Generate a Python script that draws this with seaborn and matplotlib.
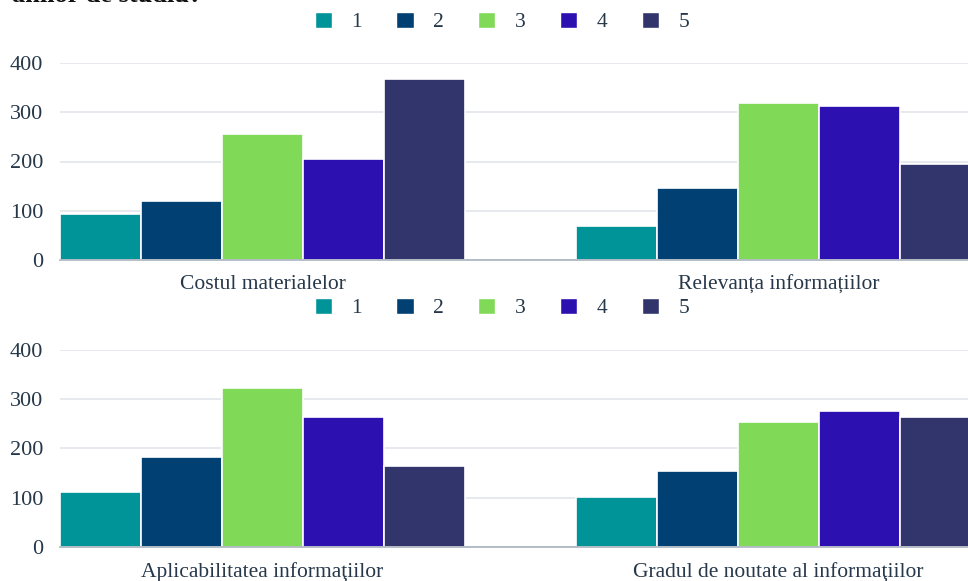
import matplotlib
matplotlib.use("Agg")
import matplotlib.pyplot as plt
import seaborn as sns
import pandas as pd
from matplotlib.patches import Patch

series = ["1", "2", "3", "4", "5"]
colors = ["#009498", "#004073", "#80d957", "#2d10b0", "#31356b"]

cats_top = ["Costul materialelor", "Relevanța informațiilor"]
vals_top = {
    "Costul materialelor": [93, 120, 255, 205, 368],
    "Relevanța informațiilor": [70, 146, 318, 312, 195],
}
cats_bot = ["Aplicabilitatea informaţiilor", "Gradul de noutate al informaţiilor"]
vals_bot = {
    "Aplicabilitatea informaţiilor": [112, 182, 322, 264, 165],
    "Gradul de noutate al informaţiilor": [101, 153, 254, 276, 263],
}
yticks = [0, 100, 200, 300, 400]
title_text = "anilor de studiu?"

sns.set_theme(style="white")
plt.rcParams["font.family"] = ["Liberation Serif", "DejaVu Serif"]
txt = "#26384a"

W, H = 968, 581
fig = plt.figure(figsize=(W / 100, H / 100), dpi=100)


def make_df(cats, vals):
    rows = []
    for c in cats:
        for s, v in zip(series, vals[c]):
            rows.append({"cat": c, "series": s, "val": v})
    return pd.DataFrame(rows)


def draw(cats, vals, y_zero, y_top, leg_y):
    left, right = 60, 981
    ax = fig.add_axes([left / W, (H - y_zero) / H, (right - left) / W, (y_zero - y_top) / H])
    df = make_df(cats, vals)
    sns.barplot(data=df, x="cat", y="val", hue="series", hue_order=series,
                palette=colors, width=0.785, ax=ax, edgecolor="white",
                linewidth=1.2, legend=False, saturation=1)
    ax.set_xlim(-0.3925, 1.3925)
    ax.set_ylim(0, 400)
    ax.set_yticks(yticks)
    ax.set_yticklabels([str(t) for t in yticks])
    ax.yaxis.grid(True, color="#e1e5ea", linewidth=1.2)
    ax.set_axisbelow(True)
    for s in ["top", "right", "left"]:
        ax.spines[s].set_visible(False)
    ax.spines["bottom"].set_color("#a9b3bd")
    ax.spines["bottom"].set_linewidth(1.2)
    ax.tick_params(axis="y", length=0, pad=12, labelsize=16, labelcolor=txt)
    ax.tick_params(axis="x", length=0, pad=11, labelsize=15.5, labelcolor=txt)
    ax.set_xlabel("")
    ax.set_ylabel("")
    handles = [Patch(facecolor=c, edgecolor="white", label=s) for c, s in zip(colors, series)]
    fig.legend(handles=handles, loc="center", bbox_to_anchor=(502 / W, 1 - leg_y / H),
               ncol=5, frameon=False, fontsize=15.5, handlelength=0.8, handleheight=0.8,
               handletextpad=0.9, columnspacing=1.6, labelcolor=txt)
    return ax


draw(cats_top, vals_top, 260, 63, 22)
draw(cats_bot, vals_bot, 546.7, 350, 308)

fig.text(12 / W, 1 - 2.5 / H, title_text, fontsize=19, fontweight="bold",
         color="#111111", va="baseline", ha="left")

fig.savefig("out.png", dpi=100)
